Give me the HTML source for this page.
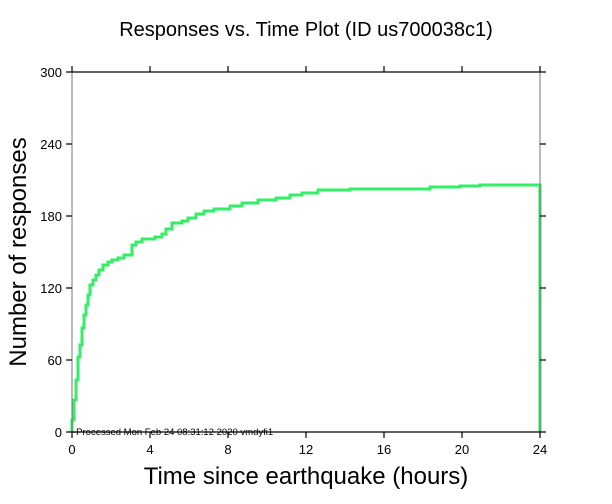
<!DOCTYPE html>
<html><head><style>body{margin:0;background:#fff}svg{display:block}</style></head><body>
<svg width="612" height="504" xmlns="http://www.w3.org/2000/svg" font-family="Liberation Sans, sans-serif">
<rect width="612" height="504" fill="#fff"/>
<text x="306" y="36" font-size="20" text-anchor="middle">Responses vs. Time Plot (ID us700038c1)</text>
<polyline fill="none" stroke="#33ee66" stroke-width="3" points="72,432 72,420 74,420 74,400 76,400 76,380 78,380 78,357 80,357 80,345 82,345 82,328 84,328 84,315 86,315 86,305 88,305 88,295 90,295 90,285 93,285 93,280 96,280 96,275 99,275 99,270 103,270 103,265 108,265 108,262 112,262 112,260 118,260 118,258 124,258 124,255 132,255 132,245 136,245 136,242 142,242 142,239 155,239 155,237 162,237 162,234 166,234 166,229 172,229 172,223 182,223 182,221 188,221 188,218 196,218 196,214 204,214 204,211 214,211 214,209 230,209 230,206 242,206 242,203 258,203 258,200 276,200 276,198 290,198 290,195 302,195 302,193 318,193 318,190 350,190 350,189 430,189 430,187 460,187 460,186 480,186 480,185 540,185 540,432"/>
<g stroke="#777" stroke-width="1" fill="none">
<line x1="72" y1="72" x2="72" y2="432"/>
<line x1="540" y1="72" x2="540" y2="432"/>
</g>
<g stroke="#000" stroke-width="1.2">
<line x1="72" y1="72" x2="540" y2="72"/>
<line x1="72" y1="432" x2="540" y2="432"/>
<line x1="66" y1="72" x2="72" y2="72"/><line x1="66" y1="144" x2="72" y2="144"/><line x1="66" y1="216" x2="72" y2="216"/><line x1="66" y1="288" x2="72" y2="288"/><line x1="66" y1="360" x2="72" y2="360"/><line x1="66" y1="432" x2="72" y2="432"/>
<line x1="540" y1="72" x2="546" y2="72"/><line x1="540" y1="144" x2="546" y2="144"/><line x1="540" y1="216" x2="546" y2="216"/><line x1="540" y1="288" x2="546" y2="288"/><line x1="540" y1="360" x2="546" y2="360"/><line x1="540" y1="432" x2="546" y2="432"/>
<line x1="72" y1="432" x2="72" y2="438"/><line x1="150" y1="432" x2="150" y2="438"/><line x1="228" y1="432" x2="228" y2="438"/><line x1="306" y1="432" x2="306" y2="438"/><line x1="384" y1="432" x2="384" y2="438"/><line x1="462" y1="432" x2="462" y2="438"/><line x1="540" y1="432" x2="540" y2="438"/>
<line x1="72" y1="66" x2="72" y2="72"/><line x1="150" y1="66" x2="150" y2="72"/><line x1="228" y1="66" x2="228" y2="72"/><line x1="306" y1="66" x2="306" y2="72"/><line x1="384" y1="66" x2="384" y2="72"/><line x1="462" y1="66" x2="462" y2="72"/><line x1="540" y1="66" x2="540" y2="72"/>
</g>
<g font-size="13" text-anchor="end">
<text x="62" y="77">300</text><text x="62" y="149">240</text><text x="62" y="221">180</text><text x="62" y="293">120</text><text x="62" y="365">60</text><text x="62" y="437">0</text>
</g>
<g font-size="13" text-anchor="middle">
<text x="72" y="454">0</text><text x="150" y="454">4</text><text x="228" y="454">8</text><text x="306" y="454">12</text><text x="384" y="454">16</text><text x="462" y="454">20</text><text x="540" y="454">24</text>
</g>
<text x="306" y="484" font-size="24" text-anchor="middle">Time since earthquake (hours)</text>
<text transform="translate(26,252) rotate(-90)" font-size="24" text-anchor="middle">Number of responses</text>
<text x="73" y="435" font-size="9.5">-Processed Mon Feb 24 08:31:12 2020 vmdyfi1</text>
</svg>
</body></html>
